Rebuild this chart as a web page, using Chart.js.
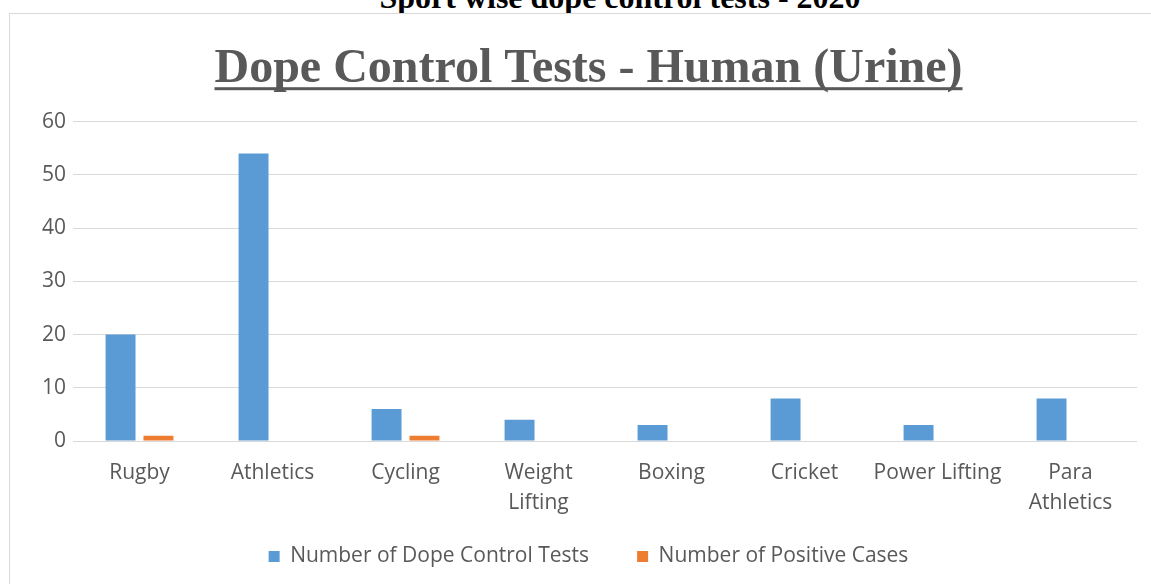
<!DOCTYPE html>
<html>
<head>
<meta charset="utf-8">
<script src="https://cdn.jsdelivr.net/npm/chart.js@4.4.1/dist/chart.umd.min.js"></script>
<style>
  html, body { margin: 0; padding: 0; background: #fff; overflow: hidden; }
  body { width: 1151px; height: 584px; position: relative; }
  #pageTitle {
    position: absolute; left: 0; top: -19px; width: 1240px;
    text-align: center; font: 700 32px/32px "Liberation Serif", serif; color: #000;
  }
  #box {
    position: absolute; left: 9px; top: 13px; width: 1142px; height: 571px;
    border-left: 1px solid #d9d9d9; border-top: 1px solid #d9d9d9; background: #fff;
  }
</style>
</head>
<body>
<div id="pageTitle">Sport wise dope control tests - 2020</div>
<div id="box"><canvas id="chart"></canvas></div>
<script>
(function(){
    "use strict";

    const sports = ['Rugby', 'Athletics', 'Cycling', ['Weight', 'Lifting'], 'Boxing', 'Cricket', 'Power Lifting', ['Para', 'Athletics']];
    const testsDone = [20, 54, 6, 4, 3, 8, 3, 8];
    const positiveCases = [1, 0, 1, 0, 0, 0, 0, 0];
    const seriesNames = ['Number of Dope Control Tests', 'Number of Positive Cases'];
    const chartTitle = 'Dope Control Tests - Human (Urine)';

    const grey = '#595959';
    const titleSize = 48;

    // draws the underline below the chart title
    const underline = {
        id: 'underline',
        afterDraw(chart) {
            const tb = chart.titleBlock;
            const ctx = chart.ctx;
            ctx.save();
            ctx.font = 'bold ' + titleSize + 'px "Liberation Serif", serif';
            ctx.textBaseline = 'middle';
            const w = ctx.measureText(chartTitle).width;
            const toBase = ctx.measureText('D').actualBoundingBoxDescent;
            const mid = tb.top + tb.options.padding.top + titleSize * 1.2 / 2;
            const cx = (tb.left + tb.right) / 2;
            ctx.fillStyle = grey;
            ctx.fillRect(cx - w / 2, mid + toBase + 5, w, 3);
            ctx.restore();
        }
    };

    // legend padding is wide (item spacing), so pull the legend up a bit
    const liftLegend = {
        id: 'liftLegend',
        afterLayout(chart) {
            chart.legend.top -= 23;
            chart.legend.bottom -= 23;
        }
    };

    new Chart(document.getElementById('chart'), {
        type: 'bar',
        data: {
            labels: sports,
            datasets: [{
                label: seriesNames[0],
                data: testsDone,
                backgroundColor: '#5B9BD5'
            }, {
                label: seriesNames[1],
                data: positiveCases,
                backgroundColor: '#ED7D31'
            }]
        },
        options: {
            responsive: true,
            maintainAspectRatio: false,
            animation: false,
            categoryPercentage: 0.57,
            barPercentage: 0.79,
            layout: { padding: { left: 30, right: 15, top: 0, bottom: -15 } },
            plugins: {
                title: {
                    display: true,
                    text: chartTitle,
                    color: grey,
                    font: { family: '"Liberation Serif", serif', size: titleSize, weight: 'bold' },
                    padding: { top: 27, bottom: 23 }
                },
                legend: {
                    position: 'bottom',
                    labels: {
                        color: grey,
                        font: { family: '"Open Sans", sans-serif', size: 21 },
                        boxWidth: 11,
                        boxHeight: 11,
                        padding: 48
                    }
                },
                tooltip: { enabled: false }
            },
            scales: {
                x: {
                    grid: { display: false, drawTicks: false },
                    border: { display: false },
                    ticks: {
                        color: grey,
                        font: { family: '"Open Sans", sans-serif', size: 21, lineHeight: 1.43 },
                        padding: 17,
                        maxRotation: 0,
                        autoSkip: false
                    },
                    afterFit(scale) { scale.height = 80; }
                },
                y: {
                    min: 0,
                    max: 60,
                    grid: { color: '#d9d9d9', drawTicks: false },
                    border: { display: false },
                    ticks: {
                        stepSize: 10,
                        color: grey,
                        font: { family: '"Open Sans", sans-serif', size: 21 },
                        padding: 7
                    },
                    afterFit(scale) { scale.width = 33; }
                }
            }
        },
        plugins: [underline, liftLegend]
    });
})();
</script>
</body>
</html>
